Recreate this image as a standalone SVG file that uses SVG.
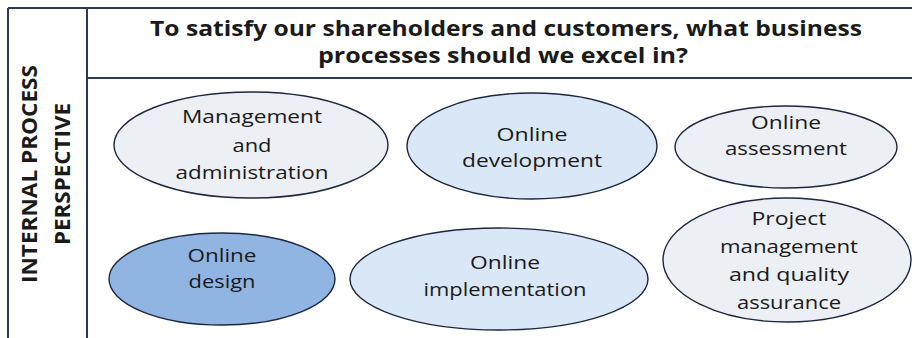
<svg xmlns="http://www.w3.org/2000/svg" width="912" height="338" viewBox="0 0 912 338">
<style>
.frame{stroke:#2b3857;stroke-width:2;fill:none}
.ell{stroke:#1c2740;stroke-width:1.4}
.gray{fill:#eceff4}
.lb{fill:#dae7f6}
.mb{fill:#90b5e2}
.t{font-family:"Open Sans","Liberation Sans",sans-serif;font-size:19px;fill:#1a1a1a;text-anchor:middle}
.h{font-family:"Open Sans","Liberation Sans",sans-serif;font-size:22px;font-weight:bold;fill:#1a1a1a;text-anchor:middle}
.v{font-family:"Open Sans","Liberation Sans",sans-serif;font-size:21px;font-weight:bold;fill:#1a1a1a;text-anchor:middle}
</style>
<rect width="912" height="338" fill="#ffffff"/>
<g id="frame">
<line class="frame" x1="8" y1="8" x2="912" y2="8"/>
<line class="frame" x1="8" y1="8" x2="8" y2="338"/>
<line class="frame" x1="87" y1="8" x2="87" y2="338"/>
<line class="frame" x1="87" y1="78" x2="912" y2="78"/>
</g>
<g id="header">
<text class="h" x="506" y="36" textLength="712" lengthAdjust="spacingAndGlyphs">To satisfy our shareholders and customers, what business</text>
<text class="h" x="503" y="63" textLength="370" lengthAdjust="spacingAndGlyphs">processes should we excel in?</text>
</g>
<g id="side-label">
<text class="v" transform="translate(37,174) rotate(-90)" textLength="218" lengthAdjust="spacingAndGlyphs">INTERNAL PROCESS</text>
<text class="v" transform="translate(70,174) rotate(-90)" textLength="142" lengthAdjust="spacingAndGlyphs">PERSPECTIVE</text>
</g>
<g id="management">
<ellipse class="ell gray" cx="251" cy="145" rx="137" ry="53"/>
<text class="t" x="252" y="123" textLength="140" lengthAdjust="spacingAndGlyphs">Management</text>
<text class="t" x="252" y="152" textLength="39" lengthAdjust="spacingAndGlyphs">and</text>
<text class="t" x="252" y="179" textLength="153" lengthAdjust="spacingAndGlyphs">administration</text>
</g>
<g id="development">
<ellipse class="ell lb" cx="532" cy="146" rx="125" ry="53"/>
<text class="t" x="532" y="141" textLength="71" lengthAdjust="spacingAndGlyphs">Online</text>
<text class="t" x="532" y="167" textLength="140" lengthAdjust="spacingAndGlyphs">development</text>
</g>
<g id="assessment">
<ellipse class="ell gray" cx="786" cy="147" rx="111" ry="41"/>
<text class="t" x="786" y="129" textLength="70" lengthAdjust="spacingAndGlyphs">Online</text>
<text class="t" x="786" y="155" textLength="122" lengthAdjust="spacingAndGlyphs">assessment</text>
</g>
<g id="design">
<ellipse class="ell mb" cx="222" cy="279" rx="113" ry="46"/>
<text class="t" x="222" y="262" textLength="69" lengthAdjust="spacingAndGlyphs">Online</text>
<text class="t" x="222" y="288" textLength="67" lengthAdjust="spacingAndGlyphs">design</text>
</g>
<g id="implementation">
<ellipse class="ell lb" cx="499" cy="279" rx="149" ry="51"/>
<text class="t" x="505" y="269" textLength="70" lengthAdjust="spacingAndGlyphs">Online</text>
<text class="t" x="505" y="296" textLength="163" lengthAdjust="spacingAndGlyphs">implementation</text>
</g>
<g id="project">
<ellipse class="ell gray" cx="787" cy="260" rx="124" ry="62"/>
<text class="t" x="789" y="225" textLength="75" lengthAdjust="spacingAndGlyphs">Project</text>
<text class="t" x="789" y="253" textLength="138" lengthAdjust="spacingAndGlyphs">management</text>
<text class="t" x="789" y="281" textLength="120" lengthAdjust="spacingAndGlyphs">and quality</text>
<text class="t" x="789" y="309" textLength="104" lengthAdjust="spacingAndGlyphs">assurance</text>
</g>
<g id="connectors"></g>
</svg>
